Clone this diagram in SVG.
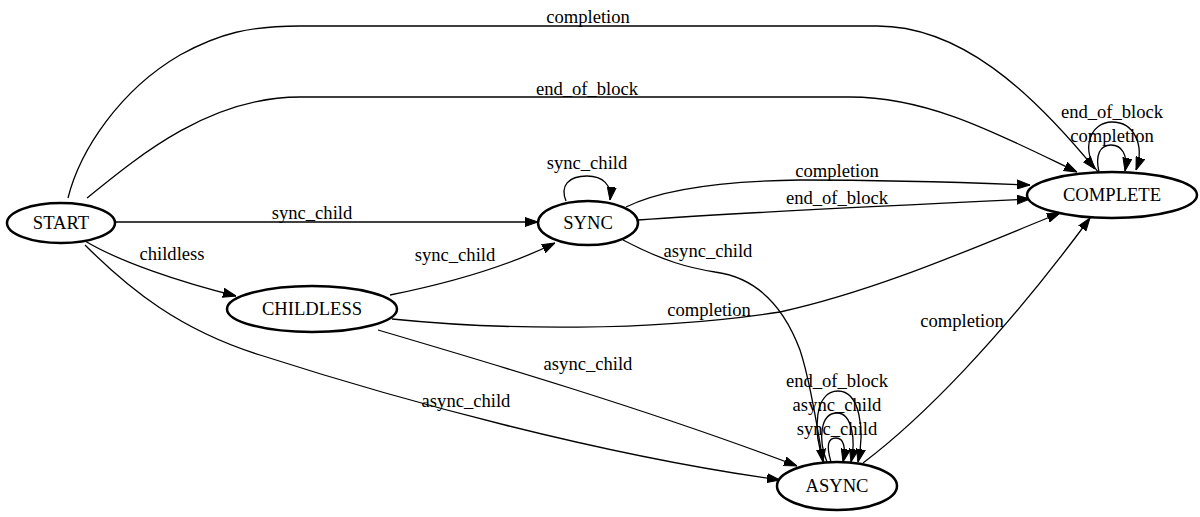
<svg xmlns="http://www.w3.org/2000/svg" width="1200" height="517" viewBox="0 0 1200 517">
<style>
.n{fill:#fff;stroke:#000;stroke-width:2.5}
.e{fill:none;stroke:#000;stroke-width:1.3;marker-end:url(#a)}
.t{font-family:"Liberation Serif","Times New Roman",serif;font-size:18.6px;text-anchor:middle;fill:#000}
</style>
<defs>
<marker id="a" markerWidth="13" markerHeight="10" refX="13" refY="5" orient="auto" markerUnits="userSpaceOnUse"><path d="M0,0.5 L13,5 L0,9.5 z" fill="#000" stroke="#000" stroke-width="1"/></marker>
</defs>
<rect width="1200" height="517" fill="#fff"/>
<g id="connectors">
<path class="e" d="M68,198 C80,150 120,90 180,55 C220,33 250,26 300,26 L877,26 C960,26 1030,90 1095,169"/>
<text class="t" x="588" y="23">completion</text>
<path class="e" d="M87,198 C140,155 210,97 300,97 L850,97 C930,97 1000,135 1077,172"/>
<text class="t" x="587" y="95">end_of_block</text>
<path class="e" d="M1098,172 C1080,150 1090,122 1112,122 C1134,122 1145,145 1136,170"/>
<text class="t" x="1112" y="118">end_of_block</text>
<path class="e" d="M1099,172 C1095,155 1100,145 1111,145 C1122,145 1128,155 1125,171"/>
<text class="t" x="1112" y="142">completion</text>
<path class="e" d="M566,201 C560,186 568,176 587,176 C603,176 612,185 610,200"/>
<text class="t" x="587" y="169">sync_child</text>
<path class="e" d="M115,222 L538,222"/>
<text class="t" x="312" y="219">sync_child</text>
<path class="e" d="M85,241 C120,262 180,282 236,296"/>
<text class="t" x="172" y="260">childless</text>
<path class="e" d="M390,295 C450,283 510,265 555,243"/>
<text class="t" x="455" y="261">sync_child</text>
<path class="e" d="M626,207 C660,190 720,181 800,180 C900,180 980,183 1030,185"/>
<text class="t" x="837" y="177">completion</text>
<path class="e" d="M638,220 C750,212 900,205 1030,199"/>
<text class="t" x="837" y="204">end_of_block</text>
<path class="e" d="M623,240 C665,262 690,268 715,272 C760,278 785,310 800,350 C810,380 818,430 823,462"/>
<text class="t" x="708" y="257">async_child</text>
<path class="e" d="M392,319 C500,330 650,332 780,312 C880,290 980,245 1060,213"/>
<text class="t" x="709" y="316">completion</text>
<path class="e" d="M863,463 C920,420 1000,340 1090,218"/>
<text class="t" x="962" y="327">completion</text>
<path class="e" d="M378,330 C480,360 650,410 797,466"/>
<text class="t" x="588" y="370">async_child</text>
<path class="e" d="M85,245 C130,290 180,330 260,355 C400,400 600,455 780,480"/>
<text class="t" x="466" y="407">async_child</text>
<path class="e" d="M824,462 C812,430 815,391 838,391 C860,391 865,430 858,462"/>
<text class="t" x="837" y="387">end_of_block</text>
<path class="e" d="M827,462 C818,440 820,413 837,413 C852,413 856,440 851,462"/>
<text class="t" x="837" y="411">async_child</text>
<path class="e" d="M831,462 C826,445 828,438 836,438 C844,438 846,448 843,462"/>
<text class="t" x="837" y="435">sync_child</text>
</g>
<g id="START"><ellipse class="n" cx="61" cy="223" rx="54" ry="20"/><text class="t" x="61" y="229">START</text></g>
<g id="SYNC"><ellipse class="n" cx="588" cy="223" rx="50" ry="22"/><text class="t" x="588" y="229">SYNC</text></g>
<g id="CHILDLESS"><ellipse class="n" cx="312" cy="309" rx="85" ry="23"/><text class="t" x="312" y="315">CHILDLESS</text></g>
<g id="COMPLETE"><ellipse class="n" cx="1112" cy="195" rx="85" ry="23"/><text class="t" x="1112" y="201">COMPLETE</text></g>
<g id="ASYNC"><ellipse class="n" cx="837" cy="486" rx="60" ry="24"/><text class="t" x="837" y="492">ASYNC</text></g>
</svg>
